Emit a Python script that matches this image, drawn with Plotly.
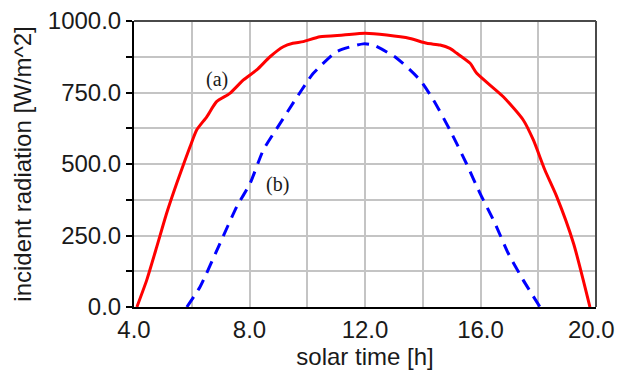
import plotly.graph_objects as go

# curve (a)
a_time = [4.1, 4.44, 4.79, 5.13, 5.48, 5.77, 5.94, 6.17, 6.52, 6.86, 7.32, 7.79, 8.25, 8.71,
          9.17, 9.5, 9.86, 10.44, 11.25, 12.0, 12.75, 13.56, 14.14, 14.6, 14.94, 15.18, 15.64,
          15.87, 16.79, 17.48, 17.83, 18.23, 18.64, 19.22, 19.79]
a_rad = [0, 94, 211, 328, 433, 514, 560, 619, 665, 718, 747, 794, 829, 875,
         910, 922, 928, 945, 951, 957, 951, 939, 922, 916, 904, 887, 852,
         817, 735, 654, 584, 479, 386, 223, 0]

# curve (b)
b_time = [5.83, 6.29, 6.98, 7.56, 8.02, 8.48, 9.06, 9.58, 10.04, 10.21, 11.02, 11.94, 12.29,
          13.1, 13.9, 14.37, 14.94, 15.52, 15.98, 16.5, 16.96, 17.48, 18.06]
b_rad = [0, 71, 223, 351, 432, 549, 642, 724, 794, 817, 893, 920, 916,
         870, 794, 724, 619, 500, 398, 293, 188, 94, 0]

x_ticks = [4, 8, 12, 16, 20]
x_labels = ["4.0", "8.0", "12.0", "16.0", "20.0"]
y_ticks = [0, 250, 500, 750, 1000]
y_labels = ["0.0", "250.0", "500.0", "750.0", "1000.0"]

curve_labels = ["(a)", "(b)"]
label_x = [6.86, 8.98]
label_y = [794, 427]

FONT = "Liberation Sans, Arial, sans-serif"
TXT = "#1a1a1a"

fig = go.Figure()
fig.add_trace(go.Scatter(x=a_time, y=a_rad, mode="lines",
                         line=dict(color="#ff0000", width=3, shape="spline", smoothing=0.6),
                         showlegend=False))
fig.add_trace(go.Scatter(x=b_time, y=b_rad, mode="lines",
                         line=dict(color="#0000ff", width=3, dash="12px,8px", shape="spline", smoothing=0.6),
                         showlegend=False))

for t, lx, ly in zip(curve_labels, label_x, label_y):
    fig.add_annotation(x=lx, y=ly, text=t, showarrow=False,
                       font=dict(family="Liberation Serif, Times New Roman, serif", size=20, color=TXT))

# last x tick label placed as annotation, nudged so it stays inside the page
fig.add_annotation(x=x_ticks[-1], y=0, text=x_labels[-1], showarrow=False,
                   xanchor="right", yanchor="middle", xshift=21, yshift=-22,
                   font=dict(family=FONT, size=24, color=TXT))

# top and right frame
fig.add_shape(type="line", xref="paper", yref="paper", x0=0, x1=1, y0=1, y1=1,
              line=dict(color="#4a4a4a", width=2), layer="above")
fig.add_shape(type="line", xref="paper", yref="paper", x0=1, x1=1, y0=0, y1=1,
              line=dict(color="#4a4a4a", width=2), layer="above")

fig.update_xaxes(range=[4, 20], tickvals=x_ticks, ticktext=x_labels[:-1] + [""], automargin=False,
                 showgrid=True, gridcolor="#c4c4c4", gridwidth=2,
                 minor=dict(dtick=2, tick0=4, showgrid=True, gridcolor="#c4c4c4", gridwidth=2, ticks=""),
                 showline=True, linecolor="black", linewidth=2, ticks="", zeroline=False,
                 title=dict(text="solar time [h]", font=dict(family=FONT, size=24, color=TXT), standoff=4),
                 tickfont=dict(family=FONT, size=24, color=TXT))
fig.update_yaxes(range=[0, 1000], tickvals=y_ticks, ticktext=y_labels, automargin=False,
                 ticklabeloverflow="allow",
                 showgrid=True, gridcolor="#c4c4c4", gridwidth=2,
                 minor=dict(dtick=125, tick0=0, showgrid=True, gridcolor="#c4c4c4", gridwidth=2,
                            ticks="outside", ticklen=6, tickwidth=2, tickcolor="black"),
                 showline=True, linecolor="black", linewidth=2, ticks="outside", ticklen=6,
                 tickwidth=2, tickcolor="black", zeroline=False,
                 title=dict(text="incident radiation [W/m^2]", font=dict(family=FONT, size=24, color=TXT), standoff=9),
                 tickfont=dict(family=FONT, size=24, color=TXT))

fig.update_layout(width=617, height=374, margin=dict(l=134, r=21, t=21, b=67),
                  plot_bgcolor="white", paper_bgcolor="white")

fig.write_html("out.html", config={"displayModeBar": False},
               post_script="document.body.style.margin='0';")
